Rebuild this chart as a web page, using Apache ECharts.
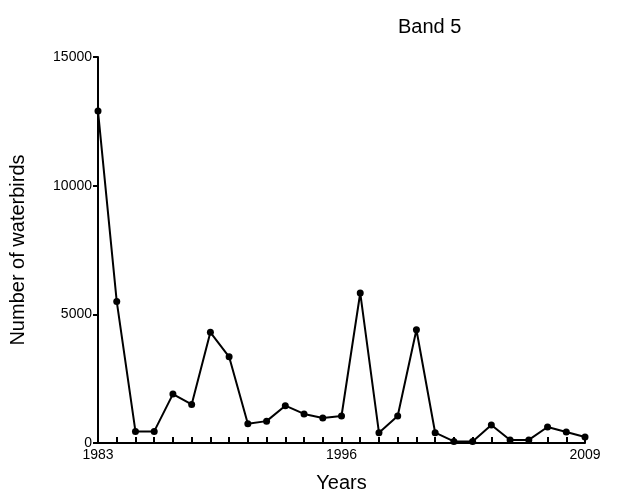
<!DOCTYPE html>
<html><head><meta charset="utf-8">
<script src="https://cdn.jsdelivr.net/npm/echarts@6/dist/echarts.min.js"></script>
<style>html,body{margin:0;background:#fff}#c{width:620px;height:504px}</style>
</head><body><div id="c"></div>
<script>
var years = [];
for (var y = 1983; y <= 2009; y++) years.push(String(y));
var birds = [12900,5500,450,450,1900,1500,4300,3350,750,850,1450,1130,970,1050,5830,400,1050,4400,400,60,60,700,120,120,620,430,230];
var yTicks = [0,5000,10000,15000];
var chart = echarts.init(document.getElementById('c'));
chart.setOption({
  animation:false,
  title:{text:'Band 5',left:393,top:12,textStyle:{fontFamily:'Liberation Sans',fontSize:20,fontWeight:'normal',color:'#000'}},
  grid:{left:97,right:35,top:57,bottom:61},
  xAxis:{type:'category',data:years,boundaryGap:false,
    name:'Years',nameLocation:'middle',nameGap:30,nameTextStyle:{fontFamily:'Liberation Sans',fontSize:20,color:'#000'},
    axisLine:{lineStyle:{color:'#000',width:2}},
    axisTick:{inside:true,length:6,interval:0,lineStyle:{color:'#000',width:2}},
    axisLabel:{interval:12,color:'#000',fontFamily:'Liberation Sans',fontSize:14,margin:5}},
  yAxis:{type:'value',min:0,max:15000,interval:5000,
    name:'Number of waterbirds',nameLocation:'middle',nameGap:70,nameTextStyle:{fontFamily:'Liberation Sans',fontSize:20,color:'#000'},
    splitLine:{show:false},
    axisLine:{show:true,lineStyle:{color:'#000',width:2}},
    axisTick:{show:true,inside:false,length:5,lineStyle:{color:'#000',width:2}},
    axisLabel:{color:'#000',fontFamily:'Liberation Sans',fontSize:14,margin:6,formatter:function(v){return String(v);}}},
  series:[{type:'line',data:birds,symbol:'circle',symbolSize:7,
    itemStyle:{color:'#000'},lineStyle:{color:'#000',width:2}}]
});
</script></body></html>
